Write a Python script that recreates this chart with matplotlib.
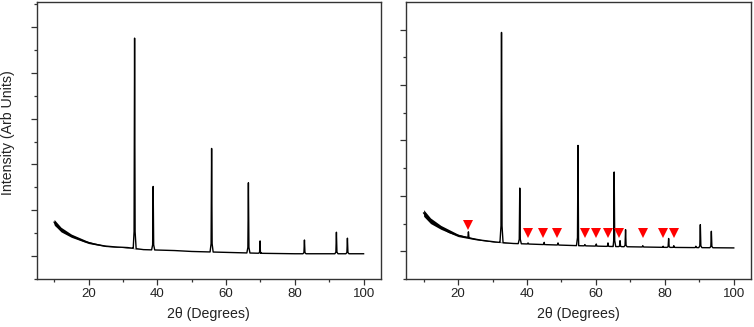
import matplotlib
matplotlib.use("Agg")
import matplotlib.pyplot as plt
import numpy as np

plt.rcParams['font.family'] = ['Liberation Sans', 'DejaVu Sans']

# background of each pattern (2theta, intensity in tick units)
bg_x_left = [10, 10.6, 13, 15.9, 18.8, 21.7, 24.7, 27.6, 31.4, 33, 36, 45, 50, 60, 70, 80, 100]
bg_y_left = [0.74, 0.66, 0.52, 0.41, 0.32, 0.26, 0.22, 0.20, 0.185, 0.17, 0.14, 0.12, 0.10,
             0.08, 0.06, 0.05, 0.05]
bg_x_right = [10, 11.5, 14.5, 17.4, 20.3, 23.2, 26.6, 30.5, 32, 36, 45, 55, 65, 80, 100]
bg_y_right = [0.69, 0.57, 0.45, 0.34, 0.28, 0.24, 0.20, 0.17, 0.16, 0.14, 0.12, 0.10, 0.085,
              0.07, 0.06]

# noise band half width at low angle
noise_x = [10, 12, 15, 20, 25, 30, 35]
noise_hw = [0.06, 0.05, 0.035, 0.022, 0.012, 0.006, 0.003]

# peak positions and apex heights
peaks_left = [33.4, 38.8, 55.8, 66.5, 69.9, 82.8, 92.1, 95.3]
tops_left = [4.76, 1.52, 2.35, 1.60, 0.33, 0.35, 0.52, 0.39]
peaks_right = [23.0, 32.6, 37.9, 40.3, 45.0, 49.0, 54.8, 56.8, 60.1, 63.5, 65.3, 67.0,
               68.6, 73.6, 79.5, 81.1, 82.6, 89.0, 90.3, 93.5]
tops_right = [0.35, 3.95, 1.14, 0.15, 0.16, 0.15, 1.91, 0.12, 0.13, 0.15, 1.43, 0.19,
              0.39, 0.10, 0.09, 0.23, 0.10, 0.09, 0.48, 0.36]

# impurity markers (right panel)
mark_x = [22.8, 40.2, 44.6, 48.8, 56.7, 60.1, 63.4, 66.8, 73.6, 79.4, 82.6]
mark_y = [0.48, 0.33, 0.33, 0.33, 0.33, 0.33, 0.33, 0.33, 0.33, 0.33, 0.33]


def pattern(bx, by, px, ptop):
    offs = [-0.45, -0.15, 0.0, 0.15, 0.45]
    frac = [0.0, 0.08, 1.0, 0.08, 0.0]
    xs = list(bx)
    for p in px:
        xs += [p + o for o in offs]
    xs = np.array(sorted(xs))
    ys = np.interp(xs, bx, by)
    for p, t in zip(px, ptop):
        for o, f in zip(offs, frac):
            i = np.argmin(abs(xs - (p + o)))
            base = np.interp(p + o, bx, by)
            ys[i] = max(ys[i], base + f * (t - base))
    return xs, ys


fig = plt.figure(figsize=(7.54, 3.27), dpi=100)
ax1 = fig.add_axes([0.049, 0.147, 0.456, 0.847])
ax2 = fig.add_axes([0.539, 0.147, 0.457, 0.847])

for ax, bx, by, px, pt, ylim in [
        (ax1, bg_x_left, bg_y_left, peaks_left, tops_left, (-0.48, 5.55)),
        (ax2, bg_x_right, bg_y_right, peaks_right, tops_right, (-0.49, 4.5))]:
    xs, ys = pattern(bx, by, px, pt)
    ax.plot(xs, ys, color='black', lw=1.0)
    nb = np.interp(noise_x, bx, by)
    ax.fill_between(noise_x, nb - noise_hw, nb + noise_hw, color='black', lw=0)
    ax.set_xlim(5, 105)
    ax.set_ylim(*ylim)
    ax.set_xticks([20, 40, 60, 80, 100])
    ax.set_xticks([10, 30, 50, 70, 90], minor=True)
    ax.set_yticks(np.arange(0, ylim[1], 1))
    ax.set_yticks(np.arange(-0.5, ylim[1], 1), minor=True)
    ax.set_yticklabels([])
    ax.tick_params(which='major', length=4.5, width=0.9, labelsize=9.5, pad=2,
                   color='#333333', labelcolor='#222222')
    ax.tick_params(which='minor', length=2.5, width=0.9, color='#333333')
    for s in ax.spines.values():
        s.set_linewidth(1.0)
        s.set_color('#333333')
    ax.set_xlabel('2\u03b8 (Degrees)', fontsize=10.2, color='#222222')
    ax.xaxis.set_label_coords(0.5, -0.103)

ax2.plot(mark_x, mark_y, 'v', color='#ff0000', markersize=7.5, markeredgewidth=0)
ax1.set_ylabel('Intensity (Arb Units)', fontsize=10.2, color='#222222')
ax1.yaxis.set_label_coords(-0.064, 0.53)

fig.savefig('out.png', dpi=100)
